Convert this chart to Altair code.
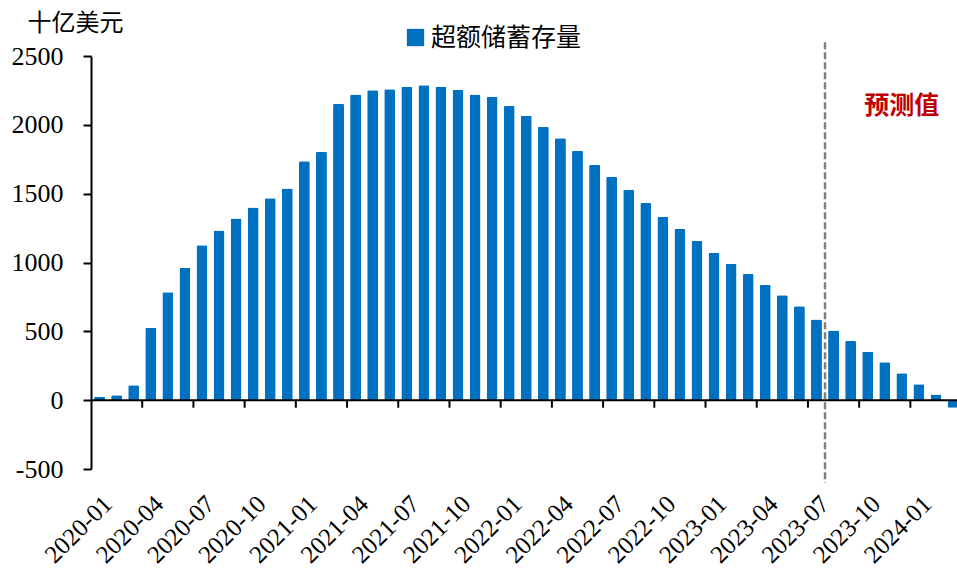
import altair as alt
import pandas as pd

# Monthly categories, Jan 2020 through Mar 2024
months = [str(p) for p in pd.period_range("2020-01", periods=51, freq="M")]

# Excess savings stock, billions of US dollars
excess_savings = [
    24, 36, 109, 526, 783, 961, 1126, 1233, 1320, 1400, 1466, 1538,
    1735, 1805, 2153, 2221, 2251, 2258, 2277, 2287, 2277, 2253, 2221, 2204,
    2137, 2066, 1986, 1902, 1812, 1710, 1623, 1528, 1432, 1332, 1243, 1156,
    1071, 991, 916, 836, 763, 683, 586, 506, 429, 351, 276, 196,
    116, 41, -55,
]

series_name = "超额储蓄存量"
unit_title = "十亿美元"
forecast_start = "2023-08"
forecast_text = "预测值"
forecast_text_month = "2023-12"
forecast_text_value = 2140
y_ticks = [-500, 0, 500, 1000, 1500, 2000, 2500]

df = pd.DataFrame({"month": months, "value": excess_savings, "series": series_name})
quarter_labels = [m for m in months if m[5:] in ("01", "04", "07", "10")]
quarter_ticks = pd.DataFrame({"month": quarter_labels[1:], "value": 0, "bottom": -55})
forecast_line = pd.DataFrame({"month": [forecast_start], "value": 2600, "bottom": -600})
forecast_note = pd.DataFrame({"month": [forecast_text_month], "value": [forecast_text_value],
                              "label": [forecast_text]})
zero_line = pd.DataFrame({"month": [months[0]], "value": [0]})

SERIF = "Liberation Serif"
CJK = "Noto Sans CJK SC"
BLUE = "#0070C0"

STEP = 17.07
PAD_IN = 0.36
GAP = STEP * PAD_IN / 2  # half the gap between neighbouring bars

x_scale = alt.Scale(domain=months, range=[0, STEP * len(months)],
                    paddingInner=PAD_IN, paddingOuter=PAD_IN / 2)
y_scale = alt.Scale(domain=[-500, 2500], nice=False, zero=False)

x_axis = alt.Axis(values=quarter_labels, labelAngle=315, labelAlign="right",
                  labelBaseline="top", labelPadding=22, domain=False, ticks=False,
                  labelOverlap=False, title=None)
y_axis = alt.Axis(values=y_ticks, labelExpr="'' + datum.value", labelPadding=20,
                  domainColor="black", domainWidth=2, tickColor="black",
                  tickWidth=2, tickSize=8, grid=False, title=unit_title,
                  titleAngle=0, titleX=-16, titleY=-33, titleAlign="center",
                  titleBaseline="middle")


def x_enc(**kw):
    return alt.X("month:N", scale=x_scale, sort=months, axis=x_axis, title=None, **kw)


def y_enc():
    return alt.Y("value:Q", scale=y_scale, axis=y_axis, title=unit_title)


bars = alt.Chart(df).mark_bar(cornerRadius=1.5).encode(
    x=x_enc(),
    y=y_enc(),
    color=alt.Color("series:N", scale=alt.Scale(range=[BLUE]),
                    legend=alt.Legend(title=None, orient="none", legendX=312, legendY=-31,
                                      symbolType="square", symbolSize=300,
                                      symbolStrokeWidth=0, labelOffset=3, padding=0)),
)

zero = alt.Chart(zero_line).mark_rule(color="black", strokeWidth=2).encode(
    y=y_enc()
)

ticks = alt.Chart(quarter_ticks).mark_rule(color="black", strokeWidth=2, xOffset=-GAP).encode(
    x=x_enc(bandPosition=0),
    y=y_enc(),
    y2="bottom:Q",
)

divider = alt.Chart(forecast_line).mark_rule(
    color="#808080", strokeWidth=2.5, strokeDash=[7, 3], xOffset=-GAP
).encode(
    x=x_enc(bandPosition=0),
    y=y_enc(),
    y2="bottom:Q",
)

note = alt.Chart(forecast_note).mark_text(
    font=CJK, fontSize=25, fontWeight="bold", color="#C00000",
    align="center", baseline="middle"
).encode(
    x=x_enc(),
    y=y_enc(),
    text="label:N",
)

chart = alt.layer(bars, zero, ticks, divider, note).properties(
    width=866, height=413,
    autosize=alt.AutoSizeParams(type="none"),
    padding={"left": 91, "top": 56, "right": 0, "bottom": 99},
    background="white",
).configure_view(
    stroke=None
).configure_axisX(
    labelFont=SERIF, labelFontSize=25, labelColor="black"
).configure_axisY(
    labelFont=SERIF, labelFontSize=26, labelColor="black",
    titleFont=CJK, titleFontSize=24, titleFontWeight="normal", titleColor="black"
).configure_legend(
    labelFont=CJK, labelFontSize=25, labelColor="black"
)

chart.save("out.html", embed_options={"renderer": "svg", "actions": False})
